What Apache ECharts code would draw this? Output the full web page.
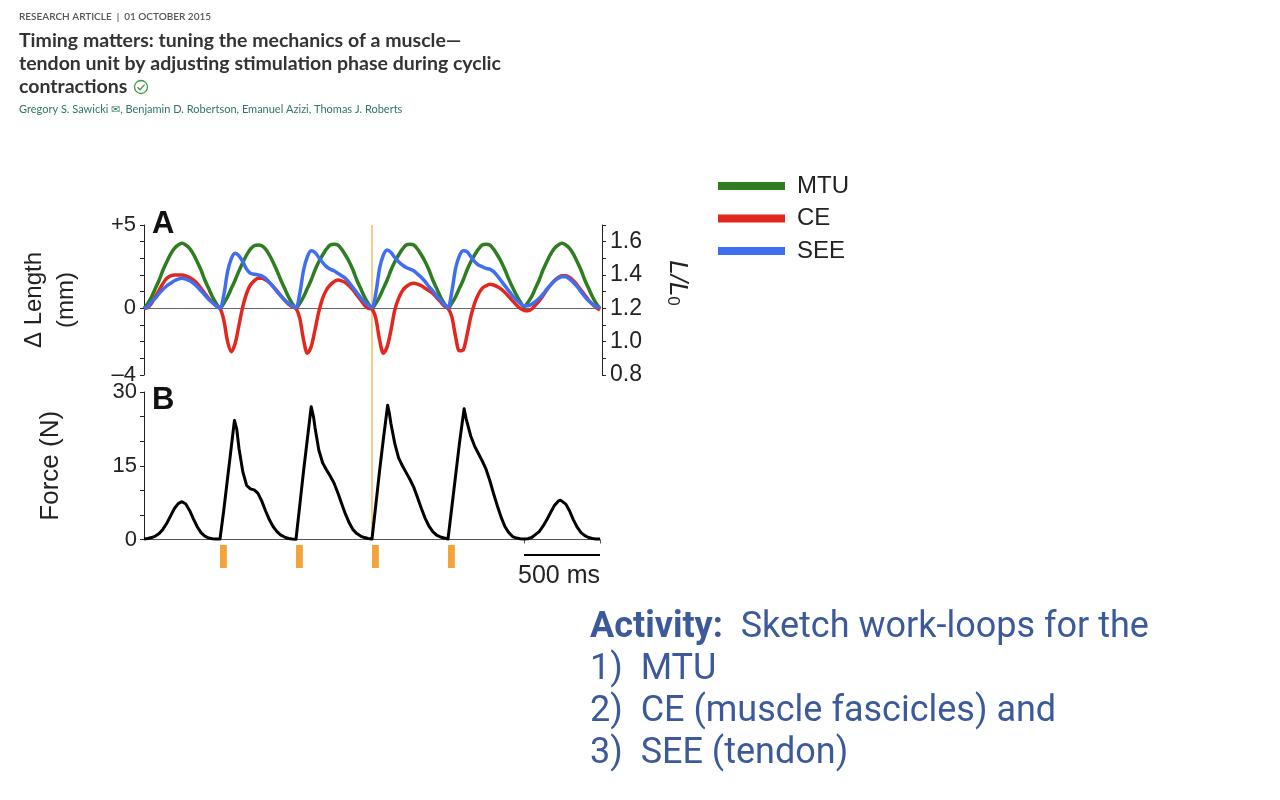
<!DOCTYPE html>
<html>
<head>
<meta charset="utf-8">
<script src="https://cdn.jsdelivr.net/npm/echarts@6/dist/echarts.min.js"></script>
<style>
html,body{margin:0;padding:0;background:#fff;}
#chart{width:1280px;height:800px;}
</style>
</head>
<body>
<div id="chart"></div>
<script>
// ---------- DATA ----------
const seriesNames = ['MTU', 'CE', 'SEE'];
const timeMs = [
  0,25,50,75,100,125,150,175,200,225,250,275,300,325,350,375,400,425,450,475,
  500,525,550,575,600,625,650,675,700,725,750,775,800,825,850,875,900,925,950,975,
  1000,1025,1050,1075,1100,1125,1150,1175,1200,1225,1250,1275,1300,1325,1350,1375,1400,1425,1450,1475,
  1500,1525,1550,1575,1600,1625,1650,1675,1700,1725,1750,1775,1800,1825,1850,1875,1900,1925,1950,1975,
  2000,2025,2050,2075,2100,2125,2150,2175,2200,2225,2250,2275,2300,2325,2350,2375,2400,2425,2450,2475,
  2500,2525,2550,2575,2600,2625,2650,2675,2700,2725,2750,2775,2800,2825,2850,2875,2900,2925,2950,2975,
  3000
];
// Δ length (mm)
const mtuMm = [
  0,0.3,0.7,1.2,1.7,2.3,2.8,3.25,3.6,3.8,3.9,3.8,3.6,3.25,2.8,2.3,1.7,1.2,0.7,0.3,
  0,0.3,0.7,1.2,1.7,2.25,2.75,3.2,3.55,3.75,3.8,3.75,3.55,3.2,2.75,2.25,1.7,1.2,0.7,0.3,
  0,0.3,0.7,1.2,1.7,2.3,2.8,3.2,3.55,3.8,3.85,3.8,3.55,3.2,2.8,2.3,1.7,1.2,0.7,0.3,
  0,0.3,0.7,1.2,1.7,2.3,2.8,3.2,3.55,3.8,3.85,3.8,3.55,3.2,2.8,2.3,1.7,1.2,0.7,0.3,
  0,0.3,0.7,1.2,1.7,2.3,2.8,3.2,3.55,3.8,3.85,3.8,3.55,3.2,2.8,2.3,1.75,1.25,0.8,0.4,
  0.1,0.35,0.7,1.2,1.7,2.3,2.8,3.25,3.6,3.8,3.9,3.8,3.6,3.25,2.8,2.3,1.7,1.2,0.7,0.3,
  0
];
const ceMm = [
  0,0.05,0.3,0.7,1.1,1.5,1.8,1.95,2.0,2.0,2.0,1.95,1.85,1.7,1.5,1.2,0.9,0.6,0.35,0.15,
  0,-0.7,-2.0,-2.6,-2.1,-1.0,0.1,0.9,1.4,1.65,1.8,1.8,1.7,1.55,1.3,1.05,0.75,0.5,0.25,0.1,
  0,-0.6,-1.9,-2.7,-2.3,-1.3,-0.2,0.6,1.1,1.4,1.6,1.7,1.65,1.55,1.35,1.1,0.8,0.5,0.2,0.0,
  -0.05,-0.6,-1.9,-2.7,-2.3,-1.3,-0.1,0.6,1.05,1.3,1.45,1.5,1.45,1.35,1.2,1.05,0.9,0.65,0.4,0.15,
  0,-0.5,-1.7,-2.55,-2.5,-1.6,-0.5,0.3,0.85,1.2,1.35,1.45,1.4,1.3,1.15,0.95,0.7,0.45,0.2,0.0,
  -0.12,-0.15,-0.05,0.2,0.45,0.75,1.1,1.4,1.65,1.85,1.95,1.95,1.85,1.65,1.4,1.1,0.8,0.5,0.25,0.05,
  -0.1
];
const seeMm = [
  0,0.1,0.4,0.6,0.9,1.15,1.35,1.5,1.65,1.75,1.8,1.75,1.65,1.5,1.3,1.05,0.8,0.55,0.35,0.15,
  0,0.8,2.2,3.0,3.3,3.15,2.8,2.35,2.1,2.05,2.0,1.95,1.8,1.55,1.3,1.0,0.75,0.5,0.3,0.15,
  0.05,0.9,2.3,3.1,3.45,3.35,3.05,2.75,2.5,2.35,2.25,2.1,1.95,1.8,1.55,1.25,0.95,0.65,0.4,0.2,
  0.05,0.9,2.4,3.2,3.5,3.35,3.05,2.8,2.6,2.45,2.35,2.25,2.05,1.85,1.6,1.3,1.05,0.75,0.5,0.25,
  0.05,1.0,2.4,3.15,3.45,3.4,3.1,2.8,2.6,2.5,2.4,2.35,2.2,1.95,1.65,1.35,1.05,0.75,0.5,0.3,
  0.15,0.15,0.25,0.4,0.6,0.85,1.15,1.4,1.65,1.8,1.9,1.9,1.75,1.55,1.3,1.0,0.7,0.45,0.25,0.1,
  0.05
];
// Force (N)
const forceT = [
  0,25,50,75,100,125,150,175,200,225,250,275,300,325,350,375,400,425,450,475,
  500,525,550,575,595,610,625,650,675,700,725,750,775,800,825,850,875,900,925,950,975,
  1000,1025,1050,1075,1100,1115,1125,1150,1175,1200,1225,1250,1275,1300,1325,1350,1375,1400,1425,1450,1475,
  1500,1525,1550,1575,1603,1615,1625,1650,1675,1700,1725,1750,1775,1800,1825,1850,1875,1900,1925,1950,1975,
  2000,2025,2050,2075,2106,2120,2150,2175,2200,2225,2250,2275,2300,2325,2350,2375,2400,2425,2450,2475,
  2500,2525,2550,2575,2600,2625,2650,2675,2700,2725,2740,2750,2775,2800,2825,2850,2875,2900,2925,2950,2975,3000
];
const forceN = [
  0.1,0.2,0.4,0.7,1.2,2.1,3.3,4.8,6.3,7.3,7.7,7.2,5.9,4.2,2.6,1.4,0.7,0.3,0.15,0.1,
  0.1,6.0,12.5,19.0,24.2,22.5,18.5,13.8,11.0,10.3,10.1,9.4,7.8,5.8,4.0,2.6,1.6,0.9,0.5,0.2,0.1,
  0.05,7,14,20.5,27,25,22.8,18.2,15.6,14.2,12.9,11.5,9.5,7.3,5.2,3.4,2.0,1.2,0.7,0.4,0.2,
  0.1,7,14,20.5,27.3,25.5,23.5,19.5,16.6,15.0,13.6,12.2,10.6,8.5,6.3,4.3,2.7,1.6,0.9,0.5,0.3,
  0.1,6.5,13,19.5,26.6,24.5,21.0,19.0,17.5,16.0,14.3,12.0,9.3,6.8,4.5,2.6,1.4,0.6,0.3,0.15,
  0.1,0.15,0.4,1.0,1.6,2.7,4.0,5.5,6.9,7.8,8.0,7.9,7.2,5.8,4.0,2.5,1.4,0.8,0.4,0.2,0.1,0.1
];
// stimulation bursts (ms)
const stimOnMs = [500, 1000, 1500, 2000];
const stimOffMs = [545, 1045, 1545, 2045];
const markerMs = 1500;
const scaleBarMs = [2500, 3000];
const lengthTicks = {5: '+5', 0: '0', '-4': '\u20134'};
const ratioLabels = [0.8, 1.0, 1.2, 1.4, 1.6];
const forceLabels = [0, 15, 30];

// ---------- CHART ----------
const FONT = 'Liberation Sans, Arial, sans-serif';
const colors = {MTU: '#2e7d21', CE: '#e2281e', SEE: '#3f6ff0'};
const zip = (a, b) => a.map((v, i) => [v, b[i]]);

const chart = echarts.init(document.getElementById('chart'), null, {renderer: 'canvas'});

const hiddenAxis = (gi, min, max) => ({gridIndex: gi, type: 'value', min, max, show: false});

const option = {
  animation: false,
  backgroundColor: '#fff',
  grid: [
    {left: 144, top: 225, width: 456, height: 150},
    {left: 144, top: 392, width: 456, height: 147.5},
    {left: 144, top: 225, width: 456, height: 315},
    {left: 144, top: 545, width: 456, height: 23}
  ],
  xAxis: [
    {gridIndex: 0, type: 'value', min: 0, max: 3000,
      axisLine: {show: true, onZero: true, lineStyle: {color: '#666', width: 1}},
      axisTick: {show: false}, axisLabel: {show: false}, splitLine: {show: false}},
    {gridIndex: 1, type: 'value', min: 0, max: 3000,
      axisLine: {show: true, onZero: true, lineStyle: {color: '#555', width: 1}},
      axisTick: {show: true, customValues: scaleBarMs, length: 4, lineStyle: {color: '#555'}},
      axisLabel: {show: false}, splitLine: {show: false}},
    hiddenAxis(2, 0, 3000),
    hiddenAxis(3, 0, 3000)
  ],
  yAxis: [
    {gridIndex: 0, type: 'value', min: -4, max: 5, interval: 1, position: 'left',
      name: '\u0394 Length\n(mm)', nameLocation: 'middle', nameRotate: 90, nameGap: 62,
      nameTextStyle: {fontFamily: FONT, fontSize: 24, color: '#222', lineHeight: 32, align: 'center'},
      axisLine: {show: true, lineStyle: {color: '#222', width: 1}},
      axisTick: {show: true, length: 4, lineStyle: {color: '#222'}},
      axisLabel: {fontFamily: FONT, fontSize: 22, color: '#222', margin: 8,
        formatter: v => (lengthTicks[v] !== undefined ? lengthTicks[v] : '')},
      splitLine: {show: false}},
    {gridIndex: 0, type: 'value', min: 0.8, max: 1.7, interval: 0.1, position: 'right', offset: 2,
      name: '{i|L/L}{s|0}', nameLocation: 'middle', nameRotate: -90, nameGap: 62,
      nameTextStyle: {padding: [0, 34, 0, 0], rich: {
        i: {fontFamily: FONT, fontStyle: 'italic', fontSize: 26, color: '#222'},
        s: {fontFamily: FONT, fontSize: 17, color: '#222', verticalAlign: 'bottom', padding: [9, 0, 0, 0]}}},
      axisLine: {show: true, lineStyle: {color: '#222', width: 1}},
      axisTick: {show: true, length: 4, lineStyle: {color: '#222'}},
      axisLabel: {fontFamily: FONT, fontSize: 23, color: '#222', margin: 8,
        formatter: v => {
          const hit = ratioLabels.find(r => Math.abs(r - v) < 1e-6);
          return hit !== undefined ? hit.toFixed(1) : '';
        }},
      splitLine: {show: false}},
    {gridIndex: 1, type: 'value', min: 0, max: 30, interval: 5,
      name: 'Force (N)', nameLocation: 'middle', nameRotate: 90, nameGap: 80,
      nameTextStyle: {fontFamily: FONT, fontSize: 26, color: '#222'},
      axisLine: {show: true, lineStyle: {color: '#222', width: 1}},
      axisTick: {show: true, length: 4, lineStyle: {color: '#222'}},
      axisLabel: {fontFamily: FONT, fontSize: 22, color: '#222', margin: 7,
        formatter: v => (forceLabels.includes(v) ? String(v) : '')},
      splitLine: {show: false}},
    hiddenAxis(2, 0, 1),
    hiddenAxis(3, 0, 1)
  ],
  legend: {
    data: seriesNames, orient: 'vertical', left: 713, top: 169,
    icon: 'rect', itemWidth: 67, itemHeight: 8, itemGap: 8.5,
    selectedMode: false,
    textStyle: {fontFamily: FONT, fontSize: 24, color: '#222', lineHeight: 23, padding: [0, 0, 0, 7]}
  },
  series: [
    {name: 'MTU', type: 'line', xAxisIndex: 0, yAxisIndex: 0, data: zip(timeMs, mtuMm),
      showSymbol: false, smooth: 0.3, color: colors.MTU, lineStyle: {width: 3.5, color: colors.MTU}},
    {name: 'CE', type: 'line', xAxisIndex: 0, yAxisIndex: 0, data: zip(timeMs, ceMm),
      showSymbol: false, smooth: 0.3, color: colors.CE, lineStyle: {width: 3.5, color: colors.CE}},
    {name: 'SEE', type: 'line', xAxisIndex: 0, yAxisIndex: 0, data: zip(timeMs, seeMm),
      showSymbol: false, smooth: 0.3, color: colors.SEE, lineStyle: {width: 3.5, color: colors.SEE}},
    {name: 'Force', type: 'line', xAxisIndex: 1, yAxisIndex: 2, data: zip(forceT, forceN),
      showSymbol: false, smooth: false, color: '#000', lineStyle: {width: 3, color: '#000', join: 'round'}},
    {name: 'marker', type: 'line', xAxisIndex: 2, yAxisIndex: 3, data: [[markerMs, 0], [markerMs, 1]],
      showSymbol: false, silent: true, z: 1, lineStyle: {width: 1.2, color: '#efae3c'}},
    {name: 'stim', type: 'custom', xAxisIndex: 3, yAxisIndex: 4,
      data: zip(stimOnMs, stimOffMs), encode: {x: [0, 1]},
      renderItem: (params, api) => {
        const p0 = api.coord([api.value(0), 1]);
        const p1 = api.coord([api.value(1), 0]);
        return {type: 'rect', shape: {x: p0[0], y: p0[1], width: p1[0] - p0[0], height: p1[1] - p0[1]},
          style: {fill: '#f2a43a'}};
      }},
    {name: 'scale', type: 'line', xAxisIndex: 3, yAxisIndex: 4,
      data: scaleBarMs.map(t => [t, 0.56]), showSymbol: false, silent: true,
      lineStyle: {width: 2, color: '#000'}}
  ],
  graphic: [
    {type: 'text', left: 19, top: 12, style: {text: 'RESEARCH ARTICLE  |  01 OCTOBER 2015', font: '600 10px Lato, sans-serif', fill: '#555'}},
    {type: 'text', left: 19, top: 31, style: {text: 'Timing matters: tuning the mechanics of a muscle\u2014', font: 'bold 19.5px Lato, sans-serif', fill: '#333'}},
    {type: 'text', left: 19, top: 54, style: {text: 'tendon unit by adjusting stimulation phase during cyclic', font: 'bold 19.5px Lato, sans-serif', fill: '#333'}},
    {type: 'text', left: 19, top: 77, style: {text: 'contractions', font: 'bold 19.5px Lato, sans-serif', fill: '#333'}},
    {type: 'circle', shape: {cx: 141, cy: 87, r: 6.5}, style: {fill: 'none', stroke: '#3f9a4a', lineWidth: 1.3}},
    {type: 'polyline', shape: {points: [[137.5, 87.3], [140, 89.8], [144.6, 84.6]]}, style: {fill: 'none', stroke: '#3f9a4a', lineWidth: 1.3}},
    {type: 'text', left: 19, top: 104, style: {text: 'Gregory S. Sawicki \u2709, Benjamin D. Robertson, Emanuel Azizi, Thomas J. Roberts', font: '11px Lato, sans-serif', fill: '#2f7466'}},
    {type: 'text', left: 152, top: 209, style: {text: 'A', font: 'bold 31px ' + FONT, fill: '#111'}},
    {type: 'text', left: 152, top: 385, style: {text: 'B', font: 'bold 31px ' + FONT, fill: '#111'}},
    {type: 'text', left: 518, top: 564, style: {text: '500 ms', font: '25px ' + FONT, fill: '#222'}},
    {type: 'text', left: 590, top: 610, style: {text: '{b|Activity:}  Sketch work-loops for the',
      font: '36px Roboto, sans-serif', fill: '#3c5a9a', rich: {b: {font: 'bold 36px Roboto, sans-serif', fill: '#3c5a9a'}}}},
    {type: 'text', left: 590, top: 652, style: {text: '1)  MTU', font: '36px Roboto, sans-serif', fill: '#3c5a9a'}},
    {type: 'text', left: 590, top: 694, style: {text: '2)  CE (muscle fascicles) and', font: '36px Roboto, sans-serif', fill: '#3c5a9a'}},
    {type: 'text', left: 590, top: 736, style: {text: '3)  SEE (tendon)', font: '36px Roboto, sans-serif', fill: '#3c5a9a'}}
  ]
};
chart.setOption(option);
</script>
</body>
</html>
